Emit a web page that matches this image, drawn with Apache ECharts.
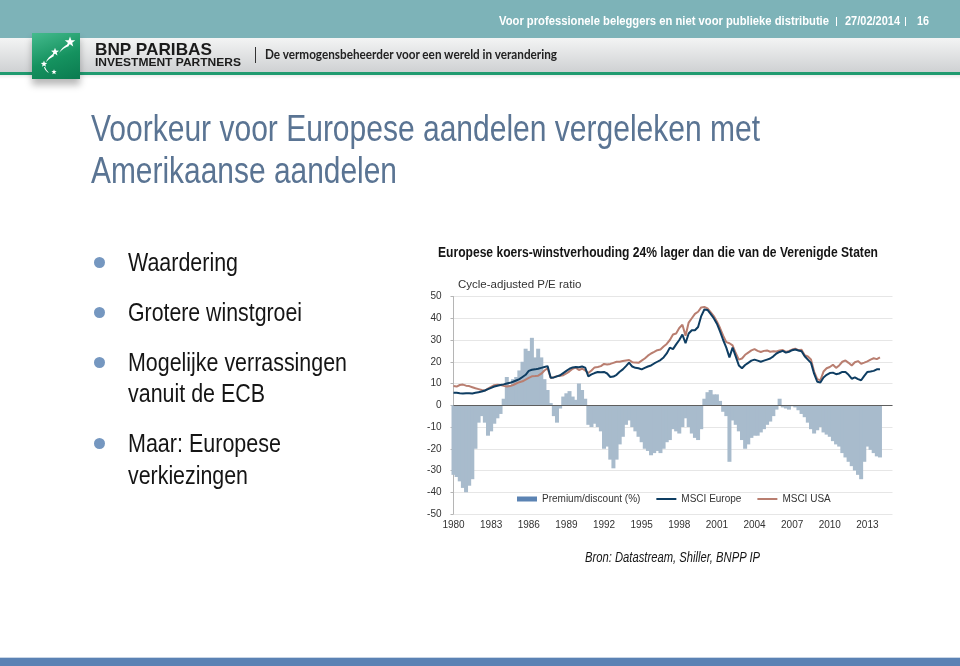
<!DOCTYPE html>
<html>
<head>
<meta charset="utf-8">
<script src="https://cdn.jsdelivr.net/npm/echarts@6/dist/echarts.min.js"></script>
<style>
html,body{margin:0;padding:0;width:960px;height:666px;overflow:hidden;background:#fff;}
#chart{position:absolute;left:0;top:0;width:960px;height:666px;}
.t{position:absolute;white-space:nowrap;transform-origin:0 0;line-height:1;}
.abs{position:absolute;}
</style>
</head>
<body>
<div class="abs" style="left:0;top:0;width:960px;height:38px;background:#7db3b8;"></div>
<div class="abs" style="left:0;top:38px;width:960px;height:34px;background:linear-gradient(#f3f4f4,#cfd1d3);"></div>
<div class="abs" style="left:0;top:72px;width:960px;height:3px;background:#219b70;"></div>
<div class="abs" style="left:0;top:75px;width:960px;height:4px;background:linear-gradient(rgba(0,0,0,0.07),rgba(0,0,0,0));"></div>
<div class="abs" style="left:32px;top:33px;width:48px;height:46px;box-shadow:0 6px 7px rgba(0,0,0,0.28);background:linear-gradient(160deg,#45bb8e 0%,#15925f 55%,#0b7b50 100%);">
  <svg id="logoSvg" width="48" height="46" viewBox="0 0 48 46"></svg>
</div>
<div class="abs" style="left:255px;top:47px;width:1px;height:16px;background:#333;"></div>
<div class="abs" style="left:0;top:657px;width:960px;height:1px;background:#c9d6e6;"></div>
<div class="abs" style="left:0;top:658px;width:960px;height:8px;background:#5b82b4;"></div>
<div id="chart"></div>
<script>
// ---------- data (quarterly, 1980 Q1 .. 2014 Q1) ----------
const startYear = 1980;
const yearLabels = [1980, 1983, 1986, 1989, 1992, 1995, 1998, 2001, 2004, 2007, 2010, 2013];

const premium = [
  -32, -33, -35, -38,   // 1980
  -40, -37, -34, -20,   // 1981
  -8, -5, -8, -14,      // 1982
  -12, -8.5, -6, -4,    // 1983
  3, 13, 9, 12,         // 1984
  13, 16, 20, 26,       // 1985
  25, 31, 22, 26,       // 1986
  22, 12, 7, 1,         // 1987
  -5, -8, -1.5, 4,      // 1988
  5.5, 6.5, 4, 2.5,     // 1989
  10, 7, 3, -9,         // 1990
  -10, -8.5, -10, -12,  // 1991
  -20, -19, -25, -29,   // 1992
  -25, -18, -14.5, -9,  // 1993
  -7, -10, -12, -14.5,  // 1994
  -17, -20, -21, -23,   // 1995
  -22, -21, -22, -20,   // 1996
  -17, -16, -11, -12,   // 1997
  -13, -10, -6, -10,    // 1998
  -13, -15, -16, -11,   // 1999
  3, 6, 7, 5,           // 2000
  5, 2, -3, -5,         // 2001
  -26, -7, -9, -12,     // 2002
  -16, -20, -18, -15,   // 2003
  -14, -14, -12.5, -11, // 2004
  -9, -7.5, -5, -2,     // 2005
  3, -1, -1.5, -2,      // 2006
  -0.5, -1, -2.3, -4,   // 2007
  -5.5, -8, -11, -13,   // 2008
  -11.5, -10, -12.5, -13.5, // 2009
  -14.5, -16.5, -18, -19,   // 2010
  -22, -24, -26, -28,   // 2011
  -30, -32, -34, -26,   // 2012
  -19, -20.5, -22, -23.5, // 2013
  -24                   // 2014
];

const europe = [
  5.8, 5.7, 5.5, 5.4,     // 1980
  5.5, 5.5, 5.4, 5.7,     // 1981
  6.0, 6.3, 6.8, 7.4,     // 1982
  8.0, 8.6, 9.0, 9.3,     // 1983
  9.6, 10.0, 10.3, 10.8,  // 1984
  11.4, 12.0, 13.0, 14.0, // 1985
  15.8, 16.3, 16.5, 16.8, // 1986
  17.2, 17.6, 18.0, 12.6, // 1987
  12.8, 13.3, 13.8, 14.8, // 1988
  15.8, 16.8, 17.4, 17.6, // 1989
  17.5, 17.8, 17.3, 13.3, // 1990
  14.2, 14.8, 15.3, 15.2, // 1991
  15.3, 14.6, 13.0, 13.2, // 1992
  14.0, 15.4, 16.5, 18.0, // 1993
  19.6, 17.8, 17.2, 17.0, // 1994
  16.5, 17.2, 17.8, 18.3, // 1995
  19.2, 20.0, 20.8, 22.0, // 1996
  23.8, 26.5, 25.8, 28.0, // 1997
  30.0, 32.5, 28.5, 33.0, // 1998
  34.5, 34.5, 36.0, 41.0, // 1999
  44.0, 43.8, 42.0, 40.0, // 2000
  37.5, 34.0, 30.0, 26.5, // 2001
  22.0, 26.5, 22.5, 18.3, // 2002
  17.0, 18.5, 19.5, 20.5, // 2003
  21.0, 20.5, 20.0, 20.5, // 2004
  21.0, 21.5, 22.5, 23.8, // 2005
  24.5, 25.0, 24.2, 24.6, // 2006
  25.3, 25.6, 25.2, 24.8, // 2007
  22.5, 21.0, 19.5, 14.5, // 2008
  10.8, 10.5, 12.8, 14.0, // 2009
  14.8, 15.0, 14.3, 14.6, // 2010
  15.3, 15.3, 14.0, 12.2, // 2011
  12.8, 12.0, 11.5, 13.5, // 2012
  15.3, 15.5, 15.8, 16.5, // 2013
  16.6                    // 2014
];

const usa = [
  8.8, 8.6, 9.3, 9.5,     // 1980
  9.0, 8.8, 8.3, 7.8,     // 1981
  7.4, 7.0, 6.7, 7.6,     // 1982
  8.4, 9.2, 9.4, 9.3,     // 1983
  8.9, 8.6, 8.8, 9.3,     // 1984
  10.0, 10.6, 11.0, 11.8, // 1985
  12.6, 13.3, 13.4, 13.6, // 1986
  14.5, 16.0, 17.0, 12.5, // 1987
  12.9, 13.4, 13.5, 13.8, // 1988
  14.6, 15.6, 16.8, 17.3, // 1989
  16.2, 16.8, 16.0, 14.8, // 1990
  16.0, 17.4, 17.6, 18.0, // 1991
  19.0, 18.7, 19.0, 19.5, // 1992
  20.0, 20.0, 20.3, 20.6, // 1993
  20.8, 19.8, 19.6, 19.5, // 1994
  20.5, 21.5, 22.8, 23.8, // 1995
  24.5, 25.3, 25.6, 27.0, // 1996
  28.2, 30.0, 32.5, 33.0, // 1997
  35.5, 37.0, 32.0, 38.0, // 1998
  40.0, 42.0, 43.0, 45.0, // 1999
  45.2, 44.5, 42.8, 41.0, // 2000
  38.5, 35.5, 32.0, 29.0, // 2001
  28.5, 27.5, 24.0, 21.0, // 2002
  21.5, 23.2, 24.2, 25.2, // 2003
  25.8, 25.0, 24.5, 25.0, // 2004
  25.2, 24.6, 24.8, 24.7, // 2005
  25.2, 25.4, 24.5, 25.0, // 2006
  25.6, 26.0, 25.3, 25.5, // 2007
  23.0, 22.4, 21.0, 15.5, // 2008
  12.0, 11.5, 15.5, 17.0, // 2009
  17.6, 18.6, 17.2, 18.3, // 2010
  20.0, 20.6, 19.5, 18.3, // 2011
  19.8, 20.3, 19.1, 19.6, // 2012
  20.2, 21.0, 21.6, 21.2, // 2013
  22.0                    // 2014
];

// ---------- slide text ----------
const NARROW = "'Liberation Sans Narrow','Arial Narrow','Liberation Sans',Arial,sans-serif";
const SANS = "'Liberation Sans',Arial,Helvetica,sans-serif";
function addText(str, x, baseline, size, o) {
  o = o || {};
  const el = document.createElement('div');
  el.className = 't';
  el.textContent = str;
  el.style.fontFamily = o.family || NARROW;
  el.style.fontSize = size + 'px';
  el.style.fontWeight = o.weight || 'normal';
  el.style.fontStyle = o.style || 'normal';
  el.style.color = o.color || '#111';
  el.style.left = x + 'px';
  el.style.top = (baseline - 0.85 * size) + 'px';
  document.body.appendChild(el);
  if (o.width) {
    const w = el.getBoundingClientRect().width;
    if (w > 0) el.style.transform = 'scaleX(' + (o.width / w) + ')';
  }
  return el;
}
// header
addText('Voor professionele beleggers en niet voor publieke distributie', 499, 26, 12.5, {weight:'bold', color:'#fff', width:330});
addText('I', 835, 26, 12, {color:'#fff', width:3});
addText('27/02/2014', 845, 26, 12.5, {weight:'bold', color:'#fff', width:55});
addText('I', 904, 26, 12, {color:'#fff', width:3});
addText('16', 917, 26, 12.5, {weight:'bold', color:'#fff', width:12});
addText('BNP PARIBAS', 95, 55.5, 17, {family:SANS, weight:'bold', color:'#1b1b1b', width:117});
addText('INVESTMENT PARTNERS', 95, 66.5, 11.5, {family:SANS, weight:'bold', color:'#1b1b1b', width:146});
addText('De vermogensbeheerder voor een wereld in verandering', 265, 59.5, 12.5, {family:"Lato,'Open Sans',sans-serif", weight:'bold', color:'#222', width:292});
// title
addText('Voorkeur voor Europese aandelen vergeleken met', 91, 142, 36, {color:'#5a7493', width:669});
addText('Amerikaanse aandelen', 91, 184, 36, {color:'#5a7493', width:306});
// bullets
const bulletRows = [
  ['Waardering', 271, 110, true],
  ['Grotere winstgroei', 321, 174, true],
  ['Mogelijke verrassingen', 371, 219, true],
  ['vanuit de ECB', 402, 137, false],
  ['Maar: Europese', 452, 153, true],
  ['verkiezingen', 484, 120, false]
];
bulletRows.forEach(function (r) {
  addText(r[0], 128, r[1], 26, {color:'#151515', width:r[2]});
  if (r[3]) {
    const d = document.createElement('div');
    d.className = 'abs';
    d.style.cssText = 'left:94px;top:' + (r[1] - 14.5) + 'px;width:11px;height:11px;border-radius:50%;background:#7597c0;';
    document.body.appendChild(d);
  }
});
// chart heading + source
addText('Europese koers-winstverhouding 24% lager dan die van de Verenigde Staten', 438, 257, 14, {weight:'bold', color:'#151515', width:440});
addText('Bron: Datastream, Shiller, BNPP IP', 585, 562, 14, {style:'italic', color:'#151515', width:175});

// logo stars
(function () {
  const svg = document.getElementById('logoSvg');
  function star(cx, cy, r) {
    let pts = [];
    for (let k = 0; k < 10; k++) {
      const a = -Math.PI / 2 + k * Math.PI / 5;
      const rr = k % 2 === 0 ? r : r * 0.42;
      pts.push((cx + rr * Math.cos(a)).toFixed(2) + ',' + (cy + rr * Math.sin(a)).toFixed(2));
    }
    return '<polygon points="' + pts.join(' ') + '" fill="#fff"/>';
  }
  let s = '';
  s += star(38, 9, 5.5) + '<path d="M36,11 Q30,14 27,20 Q31,15 37,13Z" fill="#fff"/>';
  s += star(23, 19, 4.2) + '<path d="M21,21 Q16,24 14,29 Q18,25 22,23Z" fill="#fff"/>';
  s += star(12, 31, 3.4) + '<path d="M12,34 Q13,38 17,40 Q14,37 13,34Z" fill="#fff"/>';
  s += star(22, 39, 2.8);
  svg.innerHTML = s;
})();

// ---------- chart ----------
const xs = europe.map(function (_, i) { return startYear + i / 4; });
const pair = function (arr) { return arr.map(function (v, i) { return [xs[i], v]; }); };

const chart = echarts.init(document.getElementById('chart'), null, {renderer:'canvas'});
chart.setOption({
  animation: false,
  backgroundColor: 'transparent',
  grid: {left: 453.5, top: 296.5, width: 439, height: 217.5, containLabel: false},
  graphic: [{
    type: 'text', left: 458, top: 279,
    style: {text: 'Cycle-adjusted P/E ratio', fontSize: 11.5, fill: '#333', fontFamily: SANS}
  }],
  legend: {
    left: 517, top: 494, padding: 0, itemWidth: 20, itemHeight: 5, itemGap: 15,
    textStyle: {fontSize: 10, color: '#333', fontFamily: SANS},
    data: [
      {name: 'Premium/discount (%)', icon: 'rect', itemStyle: {color: '#5b83b3'}},
      {name: 'MSCI Europe', itemStyle: {opacity: 0}},
      {name: 'MSCI USA', itemStyle: {opacity: 0}}
    ]
  },
  xAxis: {
    type: 'value', min: 1980, max: 2015, interval: 3,
    axisLine: {show: false}, axisTick: {show: false}, splitLine: {show: false},
    axisLabel: {
      color: '#333', fontSize: 10, fontFamily: SANS, margin: 6, showMaxLabel: false,
      formatter: function (v) { return yearLabels.indexOf(v) >= 0 ? String(v) : ''; }
    }
  },
  yAxis: {
    type: 'value', min: -50, max: 50, interval: 10,
    axisLine: {show: true, lineStyle: {color: '#b5b5b5'}},
    axisTick: {show: true, length: 3, lineStyle: {color: '#b5b5b5'}},
    splitLine: {lineStyle: {color: '#e6e6e6'}},
    axisLabel: {color: '#333', fontSize: 10, fontFamily: SANS, margin: 12}
  },
  series: [
    {
      name: 'Premium/discount (%)', type: 'bar', data: pair(premium),
      barWidth: 4, itemStyle: {color: '#a8bbcc'},
      markLine: {
        silent: true, symbol: ['none', 'none'], label: {show: false},
        lineStyle: {color: '#5e5e5e', width: 1, type: 'solid'},
        data: [{yAxis: 0}]
      }
    },
    {
      name: 'MSCI USA', type: 'line', data: pair(usa), symbol: 'none', showSymbol: false,
      lineStyle: {width: 2, color: '#b97e70'}, itemStyle: {color: '#b97e70'}
    },
    {
      name: 'MSCI Europe', type: 'line', data: pair(europe), symbol: 'none', showSymbol: false,
      lineStyle: {width: 2, color: '#0e3d62'}, itemStyle: {color: '#0e3d62'}
    }
  ]
});
</script>
</body>
</html>
